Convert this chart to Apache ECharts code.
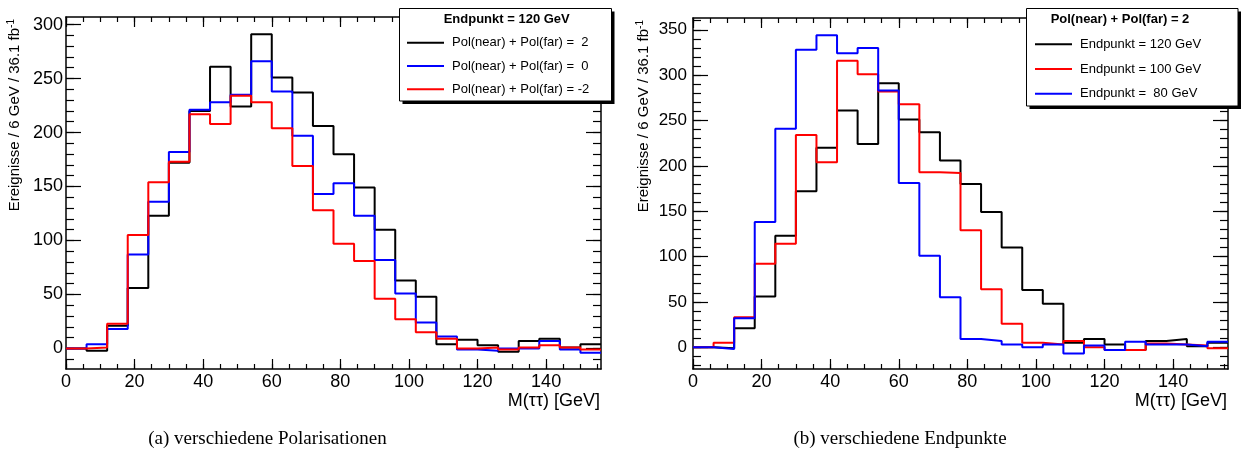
<!DOCTYPE html>
<html>
<head>
<meta charset="utf-8">
<script src="https://cdn.jsdelivr.net/npm/echarts@6/dist/echarts.min.js"></script>
<style>
html,body{margin:0;padding:0;background:#fff;}
#c{width:1241px;height:464px;}
</style>
</head>
<body>
<div id="c"></div>
<script>
// ---- data (bin low edges, 6 GeV bins, axis 0..156) ----
var binLow = [0,6,12,18,24,30,36,42,48,54,60,66,72,78,84,90,96,102,108,114,120,126,132,138,144,150];
var binHigh = 156;

// (a) verschiedene Polarisationen, Endpunkt = 120 GeV
var polPlus2  = [0,-2,21,56,123,172,220,261,224,291,251,237,206,180,149,110,63,48,4,8,3,-3,7,9,1,4];
var polZero   = [0,4,18,87,136,182,221,228,235,266,238,197,143,153,123,82,51,24,11,-1,-2,0,0,7,-1,-4];
var polMinus2 = [0,1,23,105,154,173,217,208,234,228,204,169,128,97,81,46,27,15,9,0,1,-1,1,3,1,-1];

// (b) verschiedene Endpunkte, Pol(near)+Pol(far) = 2
var end120 = [0,-1,21,56,123,172,220,261,224,291,251,237,206,180,149,110,63,48,5,9,3,-3,7,9,1,5];
var end100 = [0,5,33,92,114,234,204,316,301,282,268,193,192,129,64,26,5,3,7,0,-3,-3,4,3,2,-1];
var end80  = [0,-2,32,138,241,328,344,324,330,283,181,101,55,9,7,3,0,3,-7,2,-3,6,3,3,1,6];

// ---- ticks ----
var xMajor = [0,20,40,60,80,100,120,140];
var xMinor = [0,5,10,15,20,25,30,35,40,45,50,55,60,65,70,75,80,85,90,95,100,105,110,115,120,125,130,135,140,145,150,155];
var yMajorA = [0,50,100,150,200,250,300];
var yMinorA = [-10,0,10,20,30,40,50,60,70,80,90,100,110,120,130,140,150,160,170,180,190,200,210,220,230,240,250,260,270,280,290,300];
var yMajorB = [0,50,100,150,200,250,300,350];
var yMinorB = [-20,-10,0,10,20,30,40,50,60,70,80,90,100,110,120,130,140,150,160,170,180,190,200,210,220,230,240,250,260,270,280,290,300,310,320,330,340,350,360];

var namesA = ['Pol(near) + Pol(far) =  2','Pol(near) + Pol(far) =  0','Pol(near) + Pol(far) = -2'];
var namesB = ['Endpunkt = 120 GeV','Endpunkt = 100 GeV','Endpunkt =  80 GeV'];
var headerA = 'Endpunkt = 120 GeV';
var headerB = 'Pol(near) + Pol(far) = 2';
var yTitle = 'Ereignisse / 6 GeV / 36.1 fb';
var xTitle = 'M(\u03c4\u03c4) [GeV]';
var captionA = '(a) verschiedene Polarisationen';
var captionB = '(b) verschiedene Endpunkte';

var FONT = 'Liberation Sans, Arial, Helvetica, sans-serif';
var SERIF = 'Liberation Serif, DejaVu Serif, serif';

function hist(vals){
  var d = vals.map(function(v,i){ return [binLow[i], v]; });
  d.push([binHigh, vals[vals.length-1]]);
  return d;
}

function xAxes(grid){
  var base = {type:'value', gridIndex:grid, min:0, max:binHigh, splitLine:{show:false}};
  return [
    Object.assign({}, base, {position:'bottom',
      axisLine:{show:true, onZero:false, lineStyle:{color:'#000', width:1.5}},
      axisTick:{show:true, inside:true, length:10, customValues:xMajor, lineStyle:{color:'#000', width:1.2}},
      axisLabel:{show:true, customValues:xMajor, fontSize:18, fontFamily:FONT, color:'#000', margin:4}
    }),
    Object.assign({}, base, {position:'bottom',
      axisLine:{show:false, onZero:false},
      axisTick:{show:true, inside:true, length:5, customValues:xMinor, lineStyle:{color:'#000', width:1.2}},
      axisLabel:{show:false}
    }),
    Object.assign({}, base, {position:'top',
      axisLine:{show:true, onZero:false, lineStyle:{color:'#000', width:1.5}},
      axisTick:{show:true, inside:true, length:10, customValues:xMajor, lineStyle:{color:'#000', width:1.2}},
      axisLabel:{show:false}
    }),
    Object.assign({}, base, {position:'top',
      axisLine:{show:false, onZero:false},
      axisTick:{show:true, inside:true, length:5, customValues:xMinor, lineStyle:{color:'#000', width:1.2}},
      axisLabel:{show:false}
    })
  ];
}

function yAxes(grid, mn, mx, major, minor, labelSize, labelMargin, namePad){
  var base = {type:'value', gridIndex:grid, min:mn, max:mx, splitLine:{show:false}};
  return [
    Object.assign({}, base, {position:'left',
      axisLine:{show:true, onZero:false, lineStyle:{color:'#000', width:1.5}},
      axisTick:{show:true, inside:true, length:15, customValues:major, lineStyle:{color:'#000', width:1.2}},
      axisLabel:{show:true, customValues:major, fontSize:labelSize, fontFamily:FONT, color:'#000', margin:labelMargin},
      name:'{a|' + yTitle + '}{s|-1}', nameLocation:'end', nameGap:-2, nameRotate:90,
      nameTextStyle:{align:'right', verticalAlign:'bottom', padding:[0,0,namePad,0],
        rich:{a:{fontSize:15, fontFamily:FONT, color:'#000', lineHeight:18},
              s:{fontSize:10, fontFamily:FONT, color:'#000', lineHeight:18, verticalAlign:'top'}}}
    }),
    Object.assign({}, base, {position:'left',
      axisLine:{show:false, onZero:false},
      axisTick:{show:true, inside:true, length:8, customValues:minor, lineStyle:{color:'#000', width:1.2}},
      axisLabel:{show:false}
    }),
    Object.assign({}, base, {position:'right',
      axisLine:{show:true, onZero:false, lineStyle:{color:'#000', width:1.5}},
      axisTick:{show:true, inside:true, length:15, customValues:major, lineStyle:{color:'#000', width:1.2}},
      axisLabel:{show:false}
    }),
    Object.assign({}, base, {position:'right',
      axisLine:{show:false, onZero:false},
      axisTick:{show:true, inside:true, length:8, customValues:minor, lineStyle:{color:'#000', width:1.2}},
      axisLabel:{show:false}
    })
  ];
}

function series(name, vals, color, xi, yi){
  return {type:'line', name:name, data:hist(vals), step:'end', symbol:'none',
    xAxisIndex:xi, yAxisIndex:yi, animation:false, silent:true,
    lineStyle:{color:color, width:2}, itemStyle:{color:color}};
}

function legend(left, top, gap, names){
  return {left:left, top:top, orient:'vertical', padding:0, itemWidth:37, itemHeight:2, icon:'rect',
    itemGap:gap, selectedMode:false, z:110, data:names,
    textStyle:{fontSize:13, fontFamily:FONT, color:'#000', lineHeight:16, padding:[0,0,0,3]}};
}

function box(x, y, w, h){
  return [
    {type:'rect', z:100, shape:{x:x+3, y:y+3, width:w, height:h}, style:{fill:'#000'}, silent:true},
    {type:'rect', z:101, shape:{x:x, y:y, width:w, height:h}, style:{fill:'#fff', stroke:'#000', lineWidth:1}, silent:true}
  ];
}

function textTitle(text, left, top, align, size, family, weight){
  return {text:text, left:left, top:top, textAlign:align, padding:0, z:110,
    textStyle:{fontSize:size, fontWeight:weight, fontFamily:family, color:'#000', lineHeight:size+2}};
}

var chart = echarts.init(document.getElementById('c'), null, {renderer:'canvas'});
chart.setOption({
  backgroundColor:'#fff',
  animation:false,
  grid:[
    {left:66, top:17, width:535, height:352},
    {left:693, top:18, width:535, height:351}
  ],
  xAxis: xAxes(0).concat(xAxes(1)),
  yAxis: yAxes(0, -19, 307, yMajorA, yMinorA, 18, 3, 42).concat(yAxes(1, -24, 363, yMajorB, yMinorB, 17, 6, 40)),
  series:[
    series(namesA[0], polPlus2, '#000000', 0, 0),
    series(namesA[1], polZero, '#0000ff', 0, 0),
    series(namesA[2], polMinus2, '#ff0000', 0, 0),
    series(namesB[0], end120, '#000000', 4, 4),
    series(namesB[1], end100, '#ff0000', 4, 4),
    series(namesB[2], end80, '#0000ff', 4, 4)
  ],
  legend:[
    legend(407, 34.7, 7.3, namesA),
    legend(1035, 36.3, 8.7, namesB)
  ],
  title:[
    textTitle(headerA, 506.7, 12, 'center', 13, FONT, 'bold'),
    textTitle(headerB, 1120, 12, 'center', 13, FONT, 'bold'),
    textTitle(xTitle, 600, 391, 'right', 18, FONT, 'normal'),
    textTitle(xTitle, 1227, 391, 'right', 18, FONT, 'normal'),
    textTitle(captionA, 267.5, 429, 'center', 19, SERIF, 'normal'),
    textTitle(captionB, 900, 429, 'center', 19, SERIF, 'normal')
  ],
  graphic: box(399.5, 8.5, 212, 92.5).concat(box(1026.5, 8.5, 211.5, 97.5))
});
</script>
</body>
</html>
